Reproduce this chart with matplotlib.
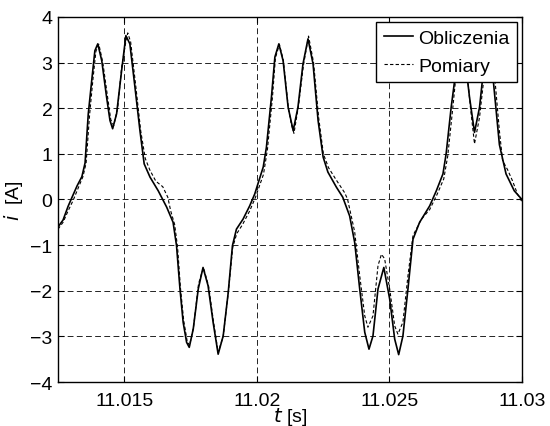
import matplotlib
matplotlib.use("Agg")
import matplotlib.pyplot as plt

# DATA

# Obliczenia: computed current, time [s] and current [A]
t_calc = [11.01250, 11.01269, 11.01288, 11.01303, 11.01322, 11.01340, 11.01352,
          11.01364, 11.01377, 11.01389, 11.01400, 11.01415, 11.01433, 11.01446,
          11.01456, 11.01471, 11.01490, 11.01506, 11.01521, 11.01540, 11.01559,
          11.01575, 11.01597, 11.01628, 11.01660, 11.01684, 11.01697, 11.01710,
          11.01722, 11.01735, 11.01745, 11.01760, 11.01779, 11.01797, 11.01816,
          11.01835, 11.01854, 11.01873, 11.01892, 11.01908, 11.01923, 11.01948,
          11.01973, 11.01992, 11.02024, 11.02036, 11.02055, 11.02068, 11.02083,
          11.02099, 11.02118, 11.02137, 11.02155, 11.02174, 11.02193, 11.02212,
          11.02231, 11.02250, 11.02268, 11.02300, 11.02324, 11.02350, 11.02369,
          11.02388, 11.02407, 11.02423, 11.02438, 11.02457, 11.02479, 11.02501,
          11.02520, 11.02535, 11.02551, 11.02570, 11.02589, 11.02614, 11.02652,
          11.02677, 11.02702, 11.02714, 11.02733, 11.02746, 11.02761, 11.02772,
          11.02787, 11.02802, 11.02821, 11.02840, 11.02858, 11.02877, 11.02892,
          11.02915, 11.02940, 11.02971, 11.03000]
i_calc = [-0.60, -0.45, -0.15, 0.05, 0.30, 0.50, 0.80,
          1.87, 2.60, 3.26, 3.41, 3.04, 2.25, 1.73,
          1.55, 1.88, 2.83, 3.59, 3.41, 2.47, 1.51,
          0.78, 0.49, 0.19, -0.17, -0.50, -1.01, -1.96,
          -2.69, -3.13, -3.24, -2.84, -1.96, -1.49, -1.89,
          -2.69, -3.39, -2.99, -2.04, -1.01, -0.65, -0.43,
          -0.14, 0.12, 0.71, 1.14, 2.24, 3.12, 3.41,
          3.04, 2.02, 1.51, 2.02, 2.97, 3.52, 2.97,
          1.73, 0.93, 0.60, 0.27, 0.05, -0.36, -0.94,
          -1.96, -2.91, -3.28, -2.99, -1.96, -1.49, -2.18,
          -3.06, -3.40, -2.99, -1.96, -0.87, -0.50, -0.14,
          0.19, 0.56, 1.00, 2.02, 2.60, 3.30, 3.40,
          3.00, 2.25, 1.47, 2.02, 3.00, 3.55, 2.60,
          1.20, 0.56, 0.19, 0.00]

# Pomiary: measured current, time [s] and current [A]
t_meas = [11.01250, 11.01269, 11.01288, 11.01307, 11.01326, 11.01344, 11.01356,
          11.01369, 11.01382, 11.01393, 11.01404, 11.01419, 11.01438, 11.01449,
          11.01460, 11.01475, 11.01490, 11.01507, 11.01513, 11.01524, 11.01543,
          11.01562, 11.01579, 11.01596, 11.01619, 11.01645, 11.01664, 11.01675,
          11.01690, 11.01701, 11.01712, 11.01724, 11.01737, 11.01746, 11.01761,
          11.01780, 11.01790, 11.01799, 11.01818, 11.01837, 11.01854, 11.01873,
          11.01892, 11.01909, 11.01924, 11.01946, 11.01973, 11.01995, 11.02025,
          11.02040, 11.02059, 11.02070, 11.02085, 11.02100, 11.02119, 11.02130,
          11.02140, 11.02157, 11.02176, 11.02195, 11.02214, 11.02233, 11.02251,
          11.02270, 11.02297, 11.02331, 11.02342, 11.02369, 11.02388, 11.02407,
          11.02419, 11.02438, 11.02457, 11.02470, 11.02482, 11.02501, 11.02520,
          11.02532, 11.02551, 11.02570, 11.02589, 11.02621, 11.02652, 11.02679,
          11.02705, 11.02720, 11.02739, 11.02750, 11.02765, 11.02776, 11.02791,
          11.02806, 11.02821, 11.02840, 11.02863, 11.02882, 11.02897, 11.02915,
          11.02927, 11.02946, 11.02965, 11.02983, 11.03000]
i_meas = [-0.65, -0.50, -0.25, -0.02, 0.25, 0.50, 0.80,
          1.85, 2.65, 3.25, 3.40, 3.00, 2.20, 1.75,
          1.62, 2.00, 2.90, 3.50, 3.65, 3.45, 2.50,
          1.50, 0.90, 0.65, 0.40, 0.28, 0.05, -0.25,
          -0.55, -1.05, -1.95, -2.65, -3.10, -3.20, -2.80,
          -1.85, -1.65, -1.50, -1.90, -2.70, -3.35, -3.00,
          -2.05, -1.05, -0.75, -0.55, -0.25, 0.05, 0.55,
          1.10, 2.25, 3.10, 3.40, 3.05, 2.00, 1.65,
          1.45, 2.05, 2.95, 3.58, 3.00, 1.80, 1.00,
          0.70, 0.45, 0.15, 0.01, -0.71, -1.67, -2.55,
          -2.80, -2.55, -1.45, -1.20, -1.30, -1.96, -2.77,
          -2.95, -2.69, -1.67, -0.79, -0.43, -0.22, 0.10,
          0.45, 0.95, 2.00, 2.65, 3.30, 3.40, 2.90,
          2.00, 1.22, 1.80, 3.00, 3.55, 2.70, 1.50,
          0.85, 0.65, 0.40, 0.12, -0.05]

x_ticks = [11.015, 11.02, 11.025, 11.03]
x_ticklabels = ["11.015", "11.02", "11.025", "11.03"]
y_ticks = [-4, -3, -2, -1, 0, 1, 2, 3, 4]

# FIGURE

plt.rcParams["font.family"] = ["Liberation Sans", "DejaVu Sans"]
plt.rcParams["font.size"] = 14

fig = plt.figure(figsize=(5.5, 4.27), dpi=100)
ax = fig.add_axes([0.1055, 0.103, 0.8435, 0.855])

ax.plot(t_calc, i_calc, color="black", linewidth=1.2, label="Obliczenia")
ax.plot(t_meas, i_meas, color="black", linewidth=0.8, linestyle=(0, (3, 2)),
        label="Pomiary")

ax.set_xlim(11.0125, 11.03)
ax.set_ylim(-4, 4)
ax.set_xticks(x_ticks)
ax.set_xticklabels(x_ticklabels)
ax.set_yticks(y_ticks)

# MATLAB-like dashed grid and box ticks
ax.grid(True, color="black", linestyle=(0, (7, 4)), linewidth=0.6)
ax.tick_params(direction="in", top=True, right=True, length=4, width=0.8)
ax.tick_params(axis="x", pad=7)
ax.tick_params(axis="y", pad=4)
for side in ax.spines.values():
    side.set_linewidth(1.0)

ax.set_xlabel(r"$\mathit{t}$ [s]", labelpad=-3)
ax.set_ylabel(r"$\mathit{i}$  [A]", labelpad=4)

leg = ax.legend(loc="upper right", fancybox=False, edgecolor="black",
                framealpha=1, borderaxespad=0.25, handlelength=1.5,
                handletextpad=0.25, borderpad=0.4, labelspacing=0.5)
leg.get_frame().set_linewidth(1.0)

fig.savefig("out.png", dpi=100)
